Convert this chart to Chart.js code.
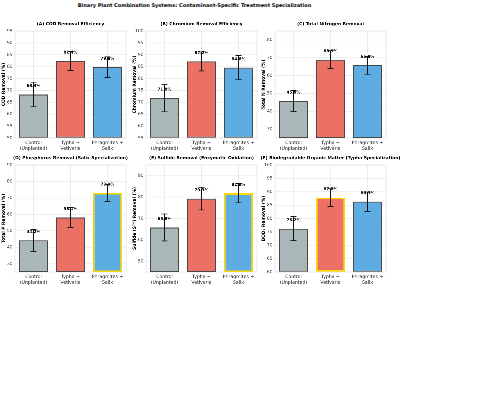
<!DOCTYPE html>
<html lang="en">
<head>
<meta charset="UTF-8">
<title>Binary Plant Combination Systems</title>
<script src="https://cdn.jsdelivr.net/npm/chart.js"></script>
<style>
  body { margin: 0; background: #fff; width: 484px; height: 404px; position: relative; overflow: hidden; font-family: "DejaVu Sans", sans-serif; }
  #suptitle { position: absolute; left: 0; width: 389px; top: 1.5px; text-align: center; font-weight: bold; font-size: 5px; color: #000; }
  canvas { position: absolute; }
</style>
</head>
<body>
<div id="suptitle">Binary Plant Combination Systems: Contaminant-Specific Treatment Specialization</div>

<script>
// ---- data ----
const systems = [['Control', '(Unplanted)'], ['Typha +', 'Vetiveria'], ['Phragmites +', 'Salix']];

const panelTitles = [
  '(A) COD Removal Efficiency',
  '(B) Chromium Removal Efficiency',
  '(C) Total Nitrogen Removal',
  '(D) Phosphorus Removal (Salix Specialization)',
  '(E) Sulfide Removal (Enzymatic Oxidation)',
  '(F) Biodegradable Organic Matter (Typha Specialization)'
];
const axisTitles = [
  'COD Removal (%)',
  'Chromium Removal (%)',
  'Total N Removal (%)',
  'Total P Removal (%)',
  'Sulfide (S²⁻) Removal (%)',
  'BOD₅ Removal (%)'
];

const codMean = [68.3, 82.4, 79.8];
const codErr = [5.2, 4.0, 4.3];
const chromiumMean = [71.8, 87.2, 84.6];
const chromiumErr = [5.8, 4.0, 5.1];
const nitrogenMean = [45.8, 68.9, 65.8];
const nitrogenErr = [5.9, 5.0, 5.0];
const phosphorusMean = [44.2, 58.1, 73.0];
const phosphorusErr = [6.7, 6.0, 5.3];
const sulfideMean = [65.8, 79.3, 81.8];
const sulfideErr = [6.3, 5.3, 4.5];
const bodMean = [76.2, 87.8, 86.3];
const bodErr = [4.5, 3.3, 3.6];

const yLimits = [[50, 95], [55, 100], [25, 85], [25, 90], [45, 95], [60, 100]];
const yTicks = [
  [50, 55, 60, 65, 70, 75, 80, 85, 90, 95],
  [55, 60, 65, 70, 75, 80, 85, 90, 95, 100],
  [30, 40, 50, 60, 70, 80],
  [30, 40, 50, 60, 70, 80, 90],
  [50, 60, 70, 80, 90],
  [60, 65, 70, 75, 80, 85, 90, 95, 100]
];
// index of the specialised combination in each panel (-1 = none)
const specialist = [-1, -1, -1, 2, 2, 1];

const means = [codMean, chromiumMean, nitrogenMean, phosphorusMean, sulfideMean, bodMean];
const errs = [codErr, chromiumErr, nitrogenErr, phosphorusErr, sulfideErr, bodErr];

// ---- look ----
const fillColors = ['#aab7b8', '#ec7063', '#5dade2'];
const plotLefts = [15, 146, 275, 15, 146, 275];
const plotTops = [31, 31, 31, 165, 165, 165];
const plotW = 111, plotH = 107.3;
const yAxisW = 15, titleH = 11, xAxisH = 17, side = 14;

Chart.defaults.font.family = '"DejaVu Sans", sans-serif';
Chart.defaults.color = '#444';

const barExtras = {
  id: 'barExtras',
  beforeDatasetsDraw(chart) {
    const a = chart.chartArea, ctx = chart.ctx;
    ctx.save();
    ctx.strokeStyle = '#dcdcdc';
    ctx.lineWidth = 0.8;
    ctx.strokeRect(a.left, a.top, a.right - a.left, a.bottom - a.top);
    ctx.restore();
  },
  afterDatasetsDraw(chart, args, opts) {
    const ctx = chart.ctx, y = chart.scales.y, a = chart.chartArea;
    const meta = chart.getDatasetMeta(0);
    ctx.save();
    // panel title, centred over the plot area
    ctx.font = 'bold 4.4px "DejaVu Sans"';
    ctx.textAlign = 'center';
    ctx.textBaseline = 'middle';
    ctx.fillStyle = '#000';
    ctx.fillText(opts.title, (a.left + a.right) / 2, a.top - 6.8);

    ctx.font = 'bold 4px "DejaVu Sans"';
    meta.data.forEach((bar, i) => {
      ctx.fillText(opts.mean[i].toFixed(1) + '%', bar.x, bar.y - 8.5);
    });
    ctx.strokeStyle = '#111';
    ctx.lineWidth = 0.8;
    meta.data.forEach((bar, i) => {
      const top = y.getPixelForValue(opts.mean[i] + opts.err[i]);
      const bot = y.getPixelForValue(opts.mean[i] - opts.err[i]);
      ctx.beginPath();
      ctx.moveTo(bar.x, top); ctx.lineTo(bar.x, bot);
      ctx.moveTo(bar.x - 3, top); ctx.lineTo(bar.x + 3, top);
      ctx.moveTo(bar.x - 3, bot); ctx.lineTo(bar.x + 3, bot);
      ctx.stroke();
    });
    ctx.restore();
  }
};

function makePanel(p) {
  const cv = document.createElement('canvas');
  const w = side + yAxisW + plotW + side, h = titleH + plotH + xAxisH;
  cv.width = w; cv.height = h;
  cv.style.left = (plotLefts[p] - yAxisW - side) + 'px';
  cv.style.top = (plotTops[p] - titleH) + 'px';
  cv.style.width = w + 'px'; cv.style.height = h + 'px';
  document.body.appendChild(cv);

  const borders = systems.map((s, i) => i === specialist[p] ? '#ffd700' : 'rgba(40,40,40,0.85)');
  const widths = systems.map((s, i) => i === specialist[p] ? 1.5 : 1);

  new Chart(cv, {
    type: 'bar',
    data: {
      labels: systems,
      datasets: [{
        data: means[p],
        base: yLimits[p][0],
        backgroundColor: fillColors,
        borderColor: borders,
        borderWidth: widths,
        borderSkipped: false,
        categoryPercentage: 1,
        barPercentage: 0.78
      }]
    },
    options: {
      responsive: false,
      animation: false,
      devicePixelRatio: 4,
      layout: { padding: { left: side, right: side, top: titleH, bottom: 0 } },
      plugins: {
        legend: { display: false },
        tooltip: { enabled: false },
        barExtras: { title: panelTitles[p], mean: means[p], err: errs[p] }
      },
      scales: {
        x: {
          grid: { color: '#ebebeb', lineWidth: 0.8, offset: false, drawTicks: false },
          border: { display: false },
          ticks: { color: '#444', padding: 2, font: { size: 4.6, lineHeight: 1.25 }, maxRotation: 0, autoSkip: false },
          afterFit: s => { s.height = xAxisH; }
        },
        y: {
          min: yLimits[p][0],
          max: yLimits[p][1],
          grid: { color: '#ebebeb', lineWidth: 0.8, drawTicks: false },
          border: { display: false },
          ticks: { color: '#444', padding: 2.5, font: { size: 4.4 } },
          afterBuildTicks: s => { s.ticks = yTicks[p].map(v => ({ value: v })); },
          title: {
            display: true,
            text: axisTitles[p],
            color: '#000',
            font: { size: 4.4, weight: 'bold' },
            padding: { top: 1, bottom: 0 }
          },
          afterFit: s => { s.width = yAxisW; }
        }
      }
    },
    plugins: [barExtras]
  });
}

for (let p = 0; p < 6; p++) makePanel(p);
</script>
</body>
</html>
